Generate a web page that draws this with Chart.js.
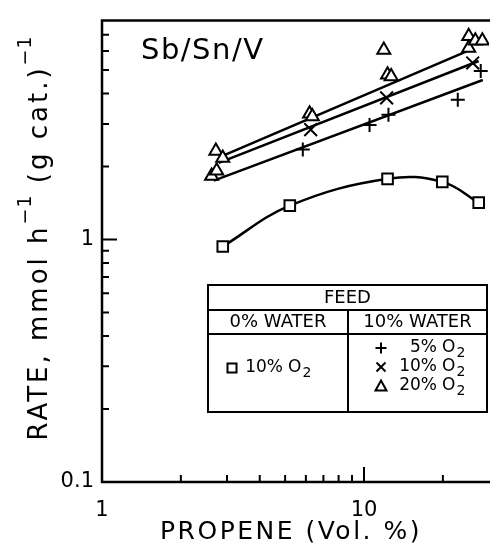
<!DOCTYPE html>
<html>
<head>
<meta charset="utf-8">
<script src="https://cdn.jsdelivr.net/npm/chart.js@4.4.1/dist/chart.umd.min.js"></script>
<style>
  html, body { margin: 0; padding: 0; background: #fff; overflow: hidden; }
  #wrap { width: 500px; height: 553px; }
</style>
</head>
<body>
<div id="wrap"><canvas id="chart" width="500" height="553"></canvas></div>
<script>
// --- data (propene vol.% vs rate) ---
const squareX = [2.89, 5.21, 12.3, 19.9, 27.4];          // 0% water, 10% O2
const squareY = [0.936, 1.38, 1.78, 1.73, 1.42];

const plusX = [5.84, 10.5, 12.4, 22.8, 27.9];             // 10% water, 5% O2
const plusY = [2.35, 2.97, 3.27, 3.77, 4.96];

const crossX = [6.26, 12.2, 26.0];                        // 10% water, 10% O2
const crossY = [2.84, 3.84, 5.35];

const triX = [2.62, 2.74, 2.72, 2.89, 6.2, 6.35, 11.9, 12.3, 12.7, 25.1, 25.1, 26.6, 28.3]; // 20% O2
const triY = [1.83, 1.92, 2.32, 2.17, 3.30, 3.22, 6.05, 4.78, 4.70, 6.9, 6.17, 6.6, 6.6];

// fitted lines (end points)
const plusFitX = [2.67, 28.4];
const plusFitY = [1.75, 4.55];
const crossFitX = [2.79, 27.4];
const crossFitY = [2.07, 5.45];
const triFitX = [2.96, 24.9];
const triFitY = [2.24, 6.0];

// axes
const xMajor = [1, 10];
const xTickLabels = ["1", "10"];
const xMinor = [2, 3, 4, 5, 6, 7, 8, 9, 20];
const yMajor = [0.1, 1];
const yTickLabels = ["0.1", "1"];
const yMinor = [0.2, 0.3, 0.4, 0.5, 0.6, 0.7, 0.8, 0.9, 2, 3, 4, 5, 6, 7];

const FONT = "'DejaVu Sans', sans-serif";
const pts = (xs, ys) => xs.map((x, i) => ({ x, y: ys[i] }));

function symbol(ctx, type, cx, cy, r) {
  ctx.beginPath();
  if (type === "rect") {
    ctx.rect(cx - r, cy - r, 2 * r, 2 * r);
  } else if (type === "plus") {
    ctx.moveTo(cx - r, cy); ctx.lineTo(cx + r, cy);
    ctx.moveTo(cx, cy - r); ctx.lineTo(cx, cy + r);
  } else if (type === "cross") {
    ctx.moveTo(cx - r, cy - r); ctx.lineTo(cx + r, cy + r);
    ctx.moveTo(cx + r, cy - r); ctx.lineTo(cx - r, cy + r);
  } else {
    ctx.moveTo(cx, cy - r); ctx.lineTo(cx + r, cy + r * 0.8); ctx.lineTo(cx - r, cy + r * 0.8); ctx.closePath();
  }
  ctx.stroke();
}

function o2(ctx, x, y, size) {
  ctx.textAlign = "left";
  ctx.font = `${size}px ${FONT}`;
  ctx.fillText("O", x, y);
  const w = ctx.measureText("O").width;
  ctx.font = `${Math.round(size * 0.8)}px ${FONT}`;
  ctx.fillText("2", x + w + 1, y + 5);
}

const decor = {
  id: "decor",
  afterDraw(chart) {
    const { ctx, chartArea: a, scales: { x, y } } = chart;
    ctx.save();
    ctx.strokeStyle = "#000";
    ctx.fillStyle = "#000";

    // frame
    ctx.lineWidth = 2.5;
    ctx.beginPath();
    ctx.moveTo(a.right + 10, a.top);
    ctx.lineTo(a.left, a.top);
    ctx.lineTo(a.left, a.bottom);
    ctx.lineTo(a.right + 10, a.bottom);
    ctx.stroke();

    // inward ticks
    ctx.lineWidth = 2;
    ctx.beginPath();
    yMajor.forEach((v) => { const p = y.getPixelForValue(v); ctx.moveTo(a.left, p); ctx.lineTo(a.left + 15, p); });
    yMinor.forEach((v) => { const p = y.getPixelForValue(v); ctx.moveTo(a.left, p); ctx.lineTo(a.left + 7, p); });
    xMajor.forEach((v) => { const p = x.getPixelForValue(v); ctx.moveTo(p, a.bottom); ctx.lineTo(p, a.bottom - 15); });
    xMinor.forEach((v) => { const p = x.getPixelForValue(v); ctx.moveTo(p, a.bottom); ctx.lineTo(p, a.bottom - 7); });
    ctx.stroke();

    // catalyst label
    ctx.textBaseline = "alphabetic";
    ctx.textAlign = "left";
    ctx.font = `29px ${FONT}`;
    ctx.letterSpacing = "1.5px";
    ctx.fillText("Sb/Sn/V", 141, 59);

    // x title
    ctx.font = `25px ${FONT}`;
    ctx.textAlign = "center";
    ctx.letterSpacing = "2.5px";
    ctx.fillText("PROPENE (Vol. %)", 291, 539);

    // y title, rotated, with superscripts
    const parts = [
      { t: "RATE, mmol h", sup: false },
      { t: "−1", sup: true },
      { t: " (g cat.)", sup: false },
      { t: "−1", sup: true },
    ];
    ctx.textAlign = "left";
    let total = 0;
    parts.forEach((p) => {
      ctx.font = p.sup ? `19px ${FONT}` : `26px ${FONT}`;
      ctx.letterSpacing = p.sup ? "1px" : "3px";
      p.w = ctx.measureText(p.t).width;
      total += p.w;
    });
    ctx.translate(47, 238);
    ctx.rotate(-Math.PI / 2);
    let cx = -total / 2;
    parts.forEach((p) => {
      ctx.font = p.sup ? `19px ${FONT}` : `26px ${FONT}`;
      ctx.letterSpacing = p.sup ? "1px" : "3px";
      ctx.fillText(p.t, cx, p.sup ? -16 : 0);
      cx += p.w;
    });
    ctx.setTransform(1, 0, 0, 1, 0, 0);
    ctx.letterSpacing = "0px";

    // legend table
    const L = 208, R = 487, T = 285, B = 412, r1 = 310, r2 = 334, mid = 348;
    ctx.fillStyle = "#fff";
    ctx.fillRect(L, T, R - L, B - T);
    ctx.fillStyle = "#000";
    ctx.lineWidth = 2;
    ctx.strokeRect(L, T, R - L, B - T);
    ctx.beginPath();
    ctx.moveTo(L, r1); ctx.lineTo(R, r1);
    ctx.moveTo(L, r2); ctx.lineTo(R, r2);
    ctx.moveTo(mid, r1); ctx.lineTo(mid, B);
    ctx.stroke();

    ctx.textBaseline = "middle";
    ctx.textAlign = "center";
    ctx.font = `18px ${FONT}`;
    ctx.fillText("FEED", (L + R) / 2, 298);
    ctx.fillText("0% WATER", (L + mid) / 2, 322);
    ctx.fillText("10% WATER", (mid + R) / 2, 322);

    ctx.lineWidth = 2;
    symbol(ctx, "rect", 232, 368, 4.5);
    ctx.textAlign = "right";
    ctx.font = `17px ${FONT}`;
    ctx.fillText("10%", 283, 368);
    o2(ctx, 288, 368, 17);

    const rows = [
      { s: "plus", t: "5%", y: 348 },
      { s: "cross", t: "10%", y: 367 },
      { s: "tri", t: "20%", y: 386 },
    ];
    rows.forEach((row) => {
      ctx.lineWidth = 2;
      symbol(ctx, row.s, 381, row.y, row.s === "cross" ? 4.5 : 5.5);
      ctx.textAlign = "right";
      ctx.font = `17px ${FONT}`;
      ctx.fillText(row.t, 437, row.y);
      o2(ctx, 442, row.y, 17);
    });
    ctx.restore();
  },
};

const lineSet = (xs, ys) => ({
  data: pts(xs, ys), showLine: true, pointRadius: 0, borderColor: "#000", borderWidth: 2.5, order: 2,
});
const markSet = (xs, ys, style, r) => ({
  data: pts(xs, ys), showLine: false, pointStyle: style, pointRadius: r,
  pointBorderColor: "#000", pointBackgroundColor: "#fff", pointBorderWidth: 2, order: 1,
});

new Chart(document.getElementById("chart"), {
  type: "scatter",
  data: {
    datasets: [
      lineSet(plusFitX, plusFitY),
      lineSet(crossFitX, crossFitY),
      lineSet(triFitX, triFitY),
      {
        ...markSet(squareX, squareY, "rect", 7.5),
        showLine: true, tension: 0.4, borderColor: "#000", borderWidth: 2.5,
      },
      markSet(plusX, plusY, "cross", 7),
      markSet(crossX, crossY, "crossRot", 9),
      markSet(triX, triY, "triangle", 7.5),
    ],
  },
  options: {
    responsive: false,
    animation: false,
    devicePixelRatio: 1,
    layout: { padding: { top: 12, right: 7, left: 0, bottom: 0 } },
    plugins: { legend: { display: false }, tooltip: { enabled: false } },
    scales: {
      x: {
        type: "logarithmic", min: 1, max: 30,
        grid: { display: false, drawTicks: false }, border: { display: false },
        afterBuildTicks: (s) => { s.ticks = xMajor.map((v) => ({ value: v })); },
        afterFit: (s) => { s.height = 71; },
        ticks: {
          color: "#000", font: { family: FONT, size: 21 }, padding: 16,
          maxRotation: 0, autoSkip: false,
          callback: (v) => xTickLabels[xMajor.indexOf(v)] ?? "",
        },
      },
      y: {
        type: "logarithmic", min: 0.1, max: 8,
        grid: { display: false, drawTicks: false }, border: { display: false },
        afterBuildTicks: (s) => { s.ticks = yMajor.map((v) => ({ value: v })); },
        afterFit: (s) => { s.width = 102; },
        ticks: {
          color: "#000", font: { family: FONT, size: 21 }, padding: 8,
          autoSkip: false,
          callback: (v) => yTickLabels[yMajor.indexOf(v)] ?? "",
        },
      },
    },
  },
  plugins: [decor],
});
</script>
</body>
</html>
